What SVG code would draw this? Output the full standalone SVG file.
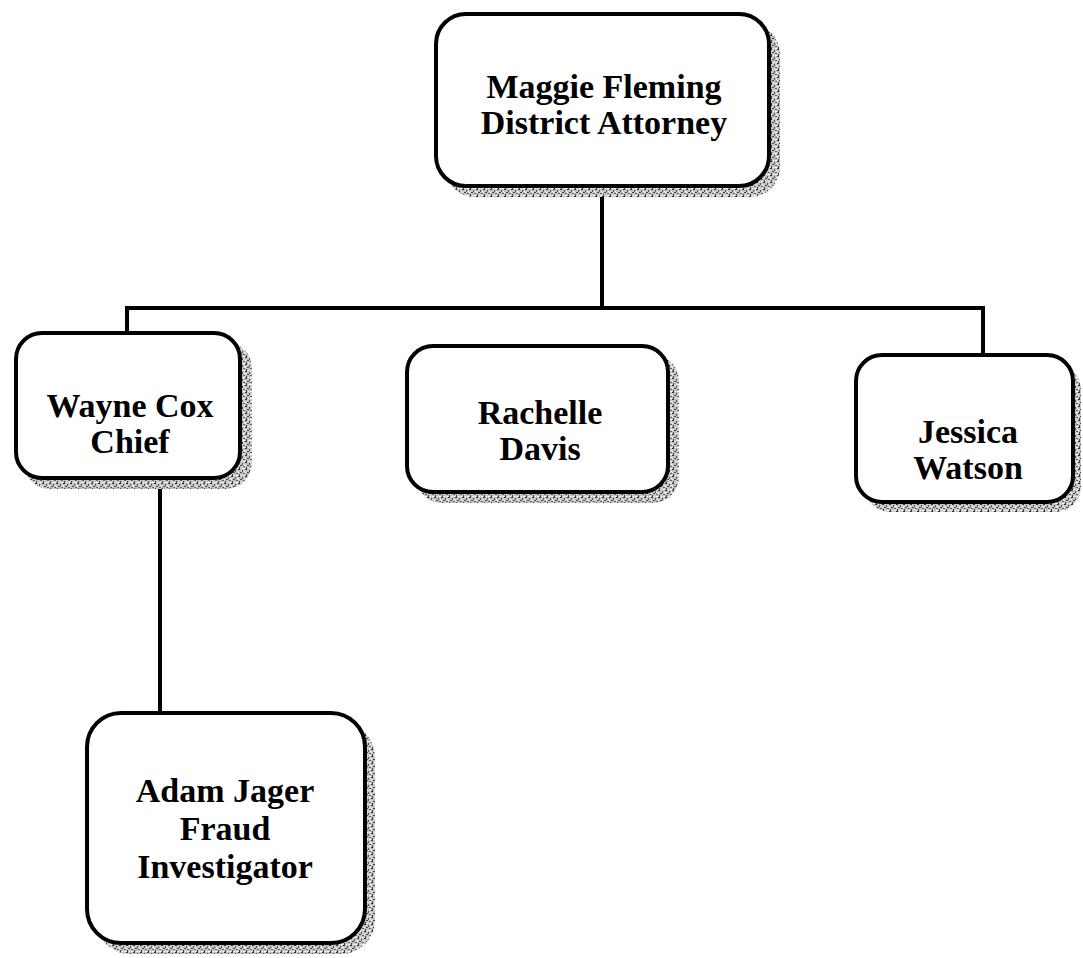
<svg xmlns="http://www.w3.org/2000/svg" width="1083" height="958" viewBox="0 0 1083 958">
<defs>
<pattern id="stip" width="7" height="7" patternUnits="userSpaceOnUse">
<rect width="7" height="7" fill="#c4c4c4"/>
<rect x="0" y="0" width="2" height="1" fill="#333"/>
<rect x="4" y="1" width="1" height="2" fill="#555"/>
<rect x="2" y="3" width="2" height="1" fill="#444"/>
<rect x="5" y="4" width="2" height="1" fill="#666"/>
<rect x="1" y="5" width="1" height="2" fill="#444"/>
<rect x="3" y="6" width="1" height="1" fill="#fff"/>
<rect x="6" y="2" width="1" height="1" fill="#fff"/>
<rect x="0" y="3" width="1" height="1" fill="#fff"/>
<rect x="5" y="6" width="2" height="1" fill="#fff"/>
</pattern>
</defs>
<style>
.box{fill:#fff;stroke:#000;stroke-width:4}
.sh{fill:url(#stip)}
.t{font-family:"Liberation Serif","Times New Roman",serif;font-weight:bold;font-size:34px;fill:#000;text-anchor:middle}
.c{fill:none;stroke:#000;stroke-width:4}
</style>
<rect width="1083" height="958" fill="#fff"/>
<g id="connectors">
<path class="c" d="M602 186 V309"/>
<path class="c" d="M127 332 V308 H983 V355"/>
<path class="c" d="M160 478 V713"/>
</g>
<g id="n1">
<rect class="sh" x="445" y="24" width="335" height="173" rx="30"/>
<rect class="box" x="436" y="14" width="333" height="172" rx="30"/>
<text class="t" x="604" y="98">Maggie Fleming</text>
<text class="t" x="604" y="134">District Attorney</text>
</g>
<g id="n2">
<rect class="sh" x="24" y="342" width="228" height="147" rx="26"/>
<rect class="box" x="16" y="333" width="224" height="145" rx="26"/>
<text class="t" x="130" y="417">Wayne Cox</text>
<text class="t" x="130" y="453">Chief</text>
</g>
<g id="n3">
<rect class="sh" x="416" y="355" width="263" height="148" rx="26"/>
<rect class="box" x="407" y="346" width="261" height="146" rx="26"/>
<text class="t" x="540" y="424">Rachelle</text>
<text class="t" x="540" y="460">Davis</text>
</g>
<g id="n4">
<rect class="sh" x="864" y="364" width="217" height="148" rx="26"/>
<rect class="box" x="856" y="355" width="217" height="147" rx="26"/>
<text class="t" x="968" y="443">Jessica</text>
<text class="t" x="968" y="479">Watson</text>
</g>
<g id="n5">
<rect class="sh" x="96" y="723" width="279" height="231" rx="34"/>
<rect class="box" x="87" y="713" width="278" height="230" rx="34"/>
<text class="t" x="225" y="802">Adam Jager</text>
<text class="t" x="225" y="840">Fraud</text>
<text class="t" x="225" y="878">Investigator</text>
</g>
</svg>
